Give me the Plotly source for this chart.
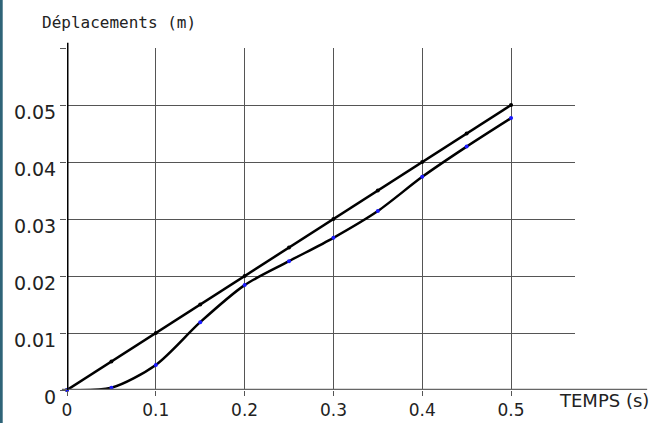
import plotly.graph_objects as go

# Data
temps = [0.0, 0.05, 0.10, 0.15, 0.20, 0.25, 0.30, 0.35, 0.40, 0.45, 0.50]
depl_uniforme = [0.0, 0.005, 0.010, 0.015, 0.020, 0.025, 0.030, 0.035, 0.040, 0.045, 0.050]
depl_mesure = [0.0, 0.0004, 0.0044, 0.0119, 0.0184, 0.0226, 0.0267, 0.0314, 0.0374, 0.0427, 0.0477]

x_ticks = [0, 0.1, 0.2, 0.3, 0.4, 0.5]
x_labels = ["0", "0.1", "0.2", "0.3", "0.4", "0.5"]
y_ticks = [0, 0.01, 0.02, 0.03, 0.04, 0.05, 0.06]
y_labels = ["0", "0.01", "0.02", "0.03", "0.04", "0.05", ""]

fig = go.Figure()
fig.add_trace(go.Scatter(
    x=temps, y=depl_uniforme, mode="lines+markers",
    line=dict(color="black", width=2.5),
    marker=dict(color="black", size=4),
    showlegend=False, cliponaxis=False,
))
fig.add_trace(go.Scatter(
    x=temps, y=depl_mesure, mode="lines+markers",
    line=dict(color="black", width=2.5, shape="spline", smoothing=0.8),
    marker=dict(color="#1a1aff", size=4),
    showlegend=False, cliponaxis=False,
))

fig.update_layout(
    width=663, height=423,
    margin=dict(l=67, r=88, t=48, b=33, autoexpand=False),
    paper_bgcolor="white", plot_bgcolor="white",
    font=dict(family="DejaVu Sans", color="#222"),
    xaxis=dict(
        range=[0, 0.572], tickvals=x_ticks, ticktext=x_labels,
        showgrid=True, gridcolor="#555", gridwidth=1,
        ticks="outside", ticklen=5, tickcolor="#555", tickwidth=1,
        showline=False, zeroline=False, automargin=False,
        tickfont=dict(size=17, family="DejaVu Sans", color="#222"),
    ),
    yaxis=dict(
        range=[0, 0.06], tickvals=y_ticks, ticktext=y_labels,
        showgrid=True, gridcolor="#555", gridwidth=1,
        ticks="outside", ticklen=6, tickcolor="#555", tickwidth=1,
        showline=False, zeroline=False, automargin=False,
        ticklabelshift=7,
        tickfont=dict(size=19, family="DejaVu Sans", color="#222"),
    ),
    shapes=[
        # x axis line extended to the right
        dict(type="line", xref="paper", yref="y", x0=-0.01, x1=1.142, y0=0, y1=0,
             line=dict(color="#666", width=2.5)),
        # y axis line
        dict(type="line", xref="x", yref="paper", x0=0, x1=0, y0=0, y1=1.015,
             line=dict(color="black", width=3)),
        # left frame border
        dict(type="line", xref="paper", yref="paper", x0=-0.1295, x1=-0.1295, y0=-0.1, y1=1.2,
             line=dict(color="#2f6478", width=3)),
    ],
    annotations=[
        dict(text="Déplacements (m)", xref="paper", yref="paper", x=-0.053, y=1.075,
             xanchor="left", yanchor="middle", showarrow=False,
             font=dict(family="DejaVu Sans Mono", size=16, color="#222")),
        dict(text="TEMPS (s)", xref="paper", yref="paper", x=1.15, y=-0.03,
             xanchor="right", yanchor="middle", showarrow=False,
             font=dict(family="DejaVu Sans", size=18, color="#222")),
    ],
)

fig.write_html("out.html", config={"displayModeBar": False},
               post_script="document.body.style.margin='0';")
